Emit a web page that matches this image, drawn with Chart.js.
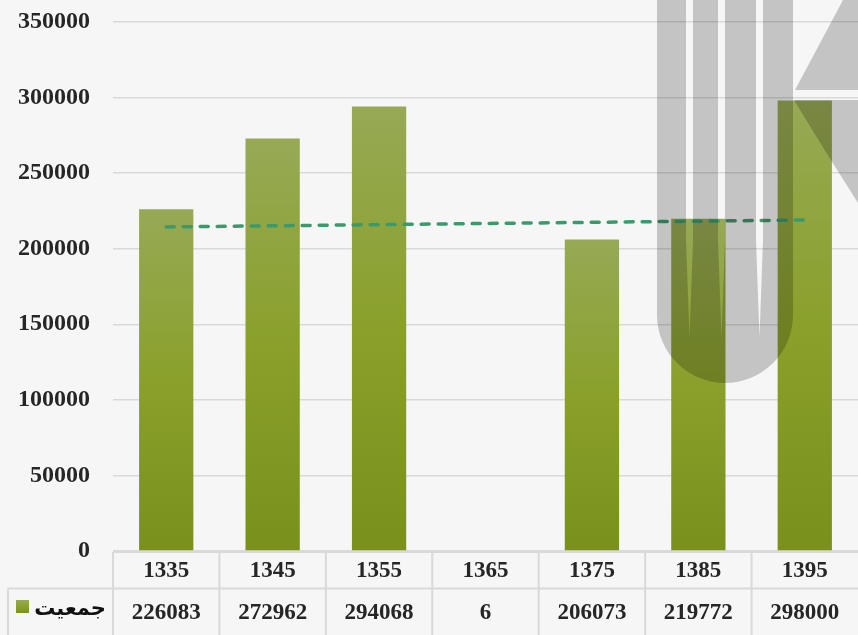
<!DOCTYPE html>
<html>
<head>
<meta charset="utf-8">
<script src="https://cdn.jsdelivr.net/npm/chart.js@4"></script>
<style>
  html, body { margin: 0; padding: 0; background: #f6f6f6; }
  #wrap { width: 858px; height: 635px; position: relative; }
</style>
</head>
<body>
<div id="wrap"><canvas id="chart"></canvas></div>
<script>
// ------------------- Data -------------------
const years = ["1335", "1345", "1355", "1365", "1375", "1385", "1395"];
const population = [226083, 272962, 294068, 6, 206073, 219772, 298000];
// trend line (first and last point only)
const trendValues = [214400, null, null, null, null, null, 219000];
const seriesName = "جمعیت";

const yMin = 0, yMax = 350000, yStep = 50000;

// ------------------- Styles -------------------
const numFont = "bold 23px 'Liberation Serif', 'Times New Roman', serif";
const textColor = "#262626";
const lineColor = "#d9d9d9";

function greenGradient(ctx, top, bottom){
  const g = ctx.createLinearGradient(0, top, 0, bottom);
  g.addColorStop(0, "#97a955");
  g.addColorStop(0.5, "#8aa02b");
  g.addColorStop(1, "#79901c");
  return g;
}

function barFill(c){
  const chart = c.chart;
  const y = chart.scales && chart.scales.y;
  if(!y || c.raw == null) return "#8aa02b";
  const top = y.getPixelForValue(c.raw);
  const bottom = y.getPixelForValue(0);
  if(!isFinite(top) || bottom - top < 1) return "rgba(0,0,0,0)"; // too thin to see
  return greenGradient(chart.ctx, top, bottom);
}

// ------------------- Data table under the plot -------------------
const dataTable = {
  id: "dataTable",
  afterDraw(chart){
    const ctx = chart.ctx;
    const xs = chart.scales.x;
    const area = chart.chartArea;
    const n = years.length;
    const w = (area.right - area.left) / n;
    const top = area.bottom + 1;
    const mid = top + 36.5;
    const bottom = chart.height;

    ctx.save();
    ctx.strokeStyle = lineColor;
    ctx.lineWidth = 2;
    ctx.beginPath();
    ctx.moveTo(area.left, top); ctx.lineTo(area.right, top);
    ctx.moveTo(8, mid); ctx.lineTo(area.right, mid);
    ctx.moveTo(8, mid); ctx.lineTo(8, bottom);
    for(let i = 0; i < n; i++){
      const x = area.left + i * w;
      ctx.moveTo(x, top); ctx.lineTo(x, bottom);
    }
    ctx.stroke();

    ctx.fillStyle = textColor;
    ctx.font = numFont;
    ctx.textAlign = "center";
    ctx.textBaseline = "middle";
    years.forEach((yr, i) => {
      const cx = xs.getPixelForValue(i);
      ctx.fillText(yr, cx, (top + mid) / 2 + 1);
      ctx.fillText(String(population[i]), cx, (mid + bottom) / 2 + 1);
    });

    // legend key
    ctx.fillStyle = greenGradient(ctx, 600, 614);
    ctx.fillRect(16, 600, 13, 13);
    ctx.fillStyle = "#111";
    ctx.font = "bold 21px 'DejaVu Sans', sans-serif";
    ctx.textAlign = "right";
    ctx.fillText(seriesName, 106, 610);
    ctx.restore();
  }
};

// ------------------- Watermark logo -------------------
const watermark = {
  id: "watermark",
  afterDraw(chart){
    const ctx = chart.ctx;
    ctx.save();
    ctx.fillStyle = "rgba(0,0,0,0.2)";
    // U with three tapered gaps
    ctx.beginPath();
    ctx.moveTo(657, 0);
    ctx.lineTo(657, 315);
    ctx.arc(725, 315, 68, Math.PI, 0, true);
    ctx.lineTo(793, 0);
    ctx.closePath();
    [[686, 693], [718, 725], [756, 763]].forEach(([a, b]) => {
      ctx.moveTo(a, 0);
      ctx.lineTo(a, 240);
      ctx.lineTo((a + b) / 2, 337);
      ctx.lineTo(b, 240);
      ctx.lineTo(b, 0);
      ctx.closePath();
    });
    ctx.fill("evenodd");
    // K upper arm
    ctx.beginPath();
    ctx.moveTo(795, 90); ctx.lineTo(843, 0); ctx.lineTo(858, 0); ctx.lineTo(858, 90);
    ctx.closePath();
    ctx.fill();
    // K lower leg
    ctx.beginPath();
    ctx.moveTo(794, 100); ctx.lineTo(858, 100); ctx.lineTo(858, 203);
    ctx.quadraticCurveTo(815, 135, 794, 100);
    ctx.closePath();
    ctx.fill();
    ctx.restore();
  }
};

// ------------------- Chart -------------------
const chart = new Chart(document.getElementById("chart"), {
  type: "bar",
  data: {
    labels: years,
    datasets: [
      {
        type: "line",
        label: "trend",
        data: trendValues,
        order: 0,
        spanGaps: true,
        borderColor: "#3a9a6b",
        borderWidth: 3.5,
        borderDash: [8, 9],
        borderCapStyle: "round",
        pointRadius: 0,
        tension: 0,
        fill: false
      },
      {
        label: seriesName,
        data: population,
        order: 1,
        backgroundColor: barFill,
        borderWidth: 0,
        barPercentage: 0.51,
        categoryPercentage: 1
      }
    ]
  },
  options: {
    responsive: true,
    maintainAspectRatio: false,
    animation: false,
    layout: { padding: { top: 22, bottom: 84, left: 0, right: 0 } },
    plugins: { legend: { display: false }, tooltip: { enabled: false } },
    scales: {
      x: { display: false, offset: true },
      y: {
        min: yMin, max: yMax,
        afterFit: s => { s.width = 113; s.paddingTop = 0; s.paddingBottom = 0; },
        border: { display: false },
        grid: { color: lineColor, lineWidth: 1.5, drawTicks: false },
        ticks: {
          stepSize: yStep,
          padding: 23,
          color: textColor,
          callback: v => String(v),
          font: { family: "'Liberation Serif', 'Times New Roman', serif", size: 24, weight: "bold" }
        }
      }
    }
  },
  plugins: [dataTable, watermark]
});
</script>
</body>
</html>
